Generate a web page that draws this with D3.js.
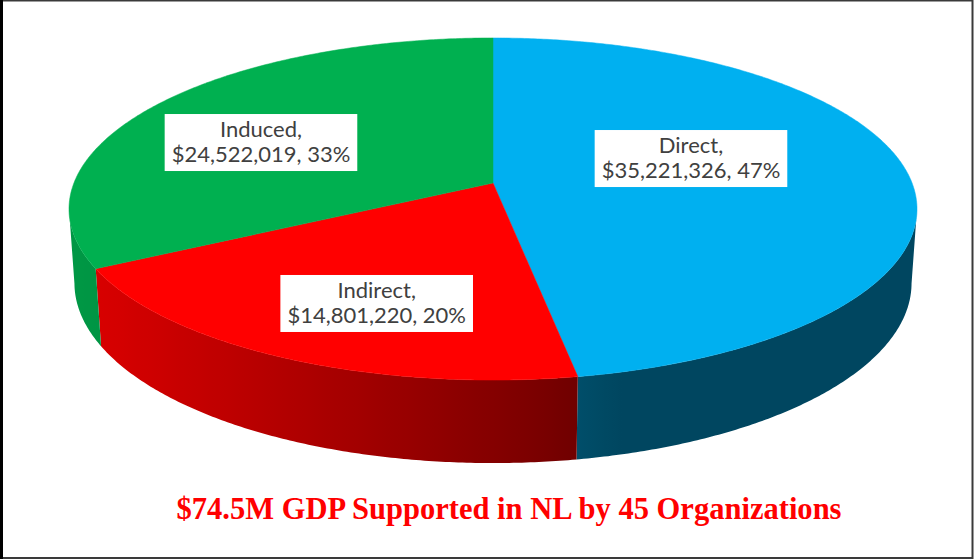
<!DOCTYPE html>
<html lang="en">
<head>
<meta charset="utf-8">
<title>GDP Supported in NL</title>
<script src="https://cdn.jsdelivr.net/npm/d3@7"></script>
<style>
  body { margin: 0; background: #fff; }
  .lbl text { font-family: Lato, "Open Sans", sans-serif; fill: #404040; }
  .title { font-family: "Liberation Serif", "DejaVu Serif", serif; font-weight: bold; fill: #ff0000; }
</style>
</head>
<body>
<script>
// ---- data ----
const categories = ["Direct", "Indirect", "Induced"];
const values = [35221326, 14801220, 24522019];
const sliceColors = ["#00B0F0", "#FF0000", "#00B050"];
const titleText = "$74.5M GDP Supported in NL by 45 Organizations";

// ---- layout ----
const w = 974, h = 560;
const cam = { cx: 493, cy: 183, f: 2527, D: 6.03, tilt: 23.5 * Math.PI / 180 };
const depth = 0.1924;       // pie thickness, in radius units
// label anchor: radius fraction + angle nudge (deg) relative to slice middle
const labelPlace = [{ r: 0.507, nudge: -12.6 }, { r: 0.694, nudge: -4.7 }, { r: 0.629, nudge: -6.9 }];

const svg = d3.select("body").append("svg")
  .attr("width", w)
  .attr("height", h);
const defs = svg.append("defs");

// perspective projection of a point on the pie (angle clockwise from 12 o'clock)
function project(theta, r, yLevel) {
  const X = r * Math.sin(theta), Z = r * Math.cos(theta), Y = yLevel;
  const s = Math.sin(cam.tilt), c = Math.cos(cam.tilt);
  const yc = Y * c + Z * s;
  const zc = cam.D + Z * c - Y * s;
  return [cam.cx + cam.f * X / zc, cam.cy - cam.f * yc / zc];
}

const pie = d3.pie().sort(null).startAngle(0).endAngle(2 * Math.PI);
const arcs = pie(values);
const fmtMoney = d3.format("$,");
const total = d3.sum(values);

const line = d3.line().curve(d3.curveLinearClosed);
const step = Math.PI / 360;

// shading for the outer wall, light from the front-left
function shade(color, theta) {
  const k = 0.40 + 0.46 * Math.max(0, Math.cos(theta - 255 * Math.PI / 180));
  const c = d3.rgb(color);
  return d3.rgb(c.r * k, c.g * k, c.b * k).formatHex();
}

// visible (front) part of the outer wall: between left and right silhouette
const kPersp = Math.cos(cam.tilt) / cam.D;
const frontFrom = Math.acos(-kPersp), frontTo = 2 * Math.PI - Math.acos(-kPersp);

const walls = [];
arcs.forEach((a, i) => {
  const t0 = Math.max(a.startAngle, frontFrom), t1 = Math.min(a.endAngle, frontTo);
  if (t1 <= t0) return;
  const ts = d3.range(t0, t1, step).concat([t1]);
  const top = ts.map(t => project(t, 1, 0));
  const bot = ts.map(t => project(t, 1, -depth)).reverse();
  // gradient along x, one stop every few degrees
  const xs = top.map(p => p[0]);
  const x0 = d3.min(xs), x1 = d3.max(xs);
  const gid = "wall" + i;
  const stops = ts.filter((t, j) => j % 4 === 0 || j === ts.length - 1)
    .map(t => ({ offset: (project(t, 1, 0)[0] - x0) / (x1 - x0), color: shade(sliceColors[i], t) }))
    .sort((p, q) => p.offset - q.offset);
  defs.append("linearGradient")
    .attr("id", gid)
    .attr("gradientUnits", "userSpaceOnUse")
    .attr("x1", x0).attr("x2", x1).attr("y1", 0).attr("y2", 0)
    .selectAll("stop")
    .data(stops)
    .join("stop")
    .attr("offset", d => d.offset)
    .attr("stop-color", d => d.color);
  walls.push({ pts: top.concat(bot), fill: `url(#${gid})` });
});

svg.append("g").attr("class", "walls")
  .selectAll("path")
  .data(walls)
  .join("path")
  .attr("d", d => line(d.pts))
  .attr("fill", d => d.fill);

// top faces
svg.append("g").attr("class", "tops")
  .selectAll("path")
  .data(arcs)
  .join("path")
  .attr("d", a => {
    const ts = d3.range(a.startAngle, a.endAngle, step).concat([a.endAngle]);
    return line([project(0, 0, 0)].concat(ts.map(t => project(t, 1, 0))));
  })
  .attr("fill", (a, i) => sliceColors[i])
  .attr("stroke", (a, i) => sliceColors[i])
  .attr("stroke-width", 0.5);

// data labels
const fontSize = 22;
const lbl = svg.append("g").attr("class", "lbl")
  .selectAll("g")
  .data(arcs)
  .join("g")
  .attr("transform", (a, i) => {
    const p = labelPlace[i];
    const mid = (a.startAngle + a.endAngle) / 2 + p.nudge * Math.PI / 180;
    const pt = project(mid, p.r, 0);
    return `translate(${pt[0]},${pt[1]})`;
  });

const boxes = lbl.append("rect").attr("fill", "#fff");
const txt = lbl.append("text")
  .attr("text-anchor", "middle")
  .style("font-size", fontSize + "px");
txt.append("tspan").attr("x", 0).attr("y", -5)
  .text((a, i) => categories[i] + ",");
txt.append("tspan").attr("x", 0).attr("y", 20)
  .text((a, i) => fmtMoney(values[i]) + ", " + Math.round(values[i] / total * 100) + "%");

boxes.each(function () {
  const bb = this.parentNode.querySelector("text").getBBox();
  d3.select(this)
    .attr("x", bb.x - 7)
    .attr("y", -28)
    .attr("width", bb.width + 14)
    .attr("height", 57);
});

// title
svg.append("text")
  .attr("class", "title")
  .attr("x", 509)
  .attr("y", 519)
  .attr("text-anchor", "middle")
  .attr("textLength", 665)
  .attr("lengthAdjust", "spacingAndGlyphs")
  .style("font-size", "32px")
  .text(titleText);

// frame
svg.append("rect")
  .attr("x", 1).attr("y", 0.5)
  .attr("width", 971.5).attr("height", 557.5)
  .attr("fill", "none")
  .attr("stroke", "#3a3a3a")
  .attr("stroke-width", 2);
svg.append("line")
  .attr("x1", 1.5).attr("x2", 1.5).attr("y1", 0).attr("y2", 559)
  .attr("stroke", "#000").attr("stroke-width", 3);
</script>
</body>
</html>
